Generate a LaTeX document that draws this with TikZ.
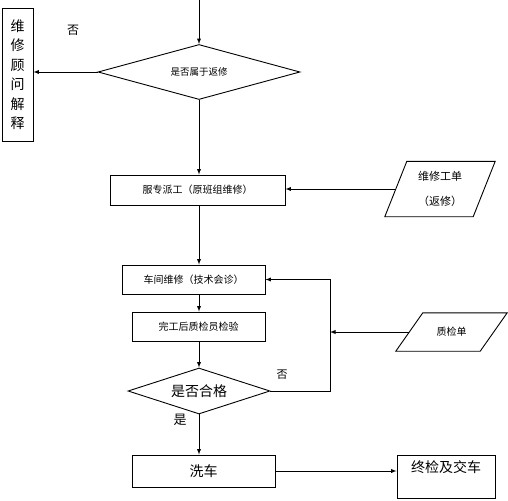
\documentclass[tikz,border=0pt]{standalone}
\usepackage{fontspec}
\setmainfont{Noto Sans CJK SC}
\usetikzlibrary{shapes.geometric}
\tikzset{
  box/.style={draw,line width=.9pt,inner sep=0pt,font=\fontsize{10}{12}\selectfont},
  decide/.style={draw,line width=.9pt,diamond,inner sep=0pt,aspect=3},
  paper/.style={inner sep=0pt,align=center},
  outline/.style={line width=.9pt,line join=miter},
  flow/.style={-latex,line width=.9pt},
  remark/.style={inner sep=0pt,font=\fontsize{#1}{#1}\selectfont}
}
\begin{document}
\begin{tikzpicture}[x=1pt,y=-1pt]
\useasboundingbox (0,0) rectangle (508,500);
\coordinate (top) at (199,0);
\node[decide,minimum width=202pt,minimum height=55pt,font=\fontsize{9.5}{11}\selectfont] (rw) at (199,72) {是否属于返修};
\node[box,minimum width=31pt,minimum height=133pt,align=center,font=\fontsize{14}{19.5}\selectfont] (gw) at (17.5,74.5) {维\\修\\顾\\问\\解\\释};
\node[remark=12] (no1) at (73,30) {否};
\node[box,minimum width=175pt,minimum height=30pt] (pg) at (197.5,190) {服专派工（原班组维修）};
\node[paper,minimum width=110pt,minimum height=55pt,font=\fontsize{11}{25}\selectfont] (wo) at (440,189) {维修工单\\（返修）};
\draw[outline] ([xshift=22pt]wo.north west) -- (wo.north east) -- ([xshift=-22pt]wo.south east) -- (wo.south west) -- cycle;
\node[box,minimum width=143pt,minimum height=29pt] (ws) at (193.5,279.5) {车间维修（技术会诊）};
\node[box,minimum width=133pt,minimum height=29pt] (qi) at (198.5,326.5) {完工后质检员检验};
\node[paper,minimum width=111pt,minimum height=38pt,font=\fontsize{10}{12}\selectfont] (qc) at (451.5,332) {质检单};
\draw[outline] ([xshift=27pt]qc.north west) -- (qc.north east) -- ([xshift=-27pt]qc.south east) -- (qc.south west) -- cycle;
\node[decide,minimum width=142pt,minimum height=46pt,font=\fontsize{14}{16}\selectfont] (ok) at (199,391) {是否合格};
\node[remark=11] (no2) at (282,375) {否};
\node[remark=13] (yes) at (180,420) {是};
\node[box,minimum width=143pt,minimum height=32pt,font=\fontsize{14}{16}\selectfont] (xc) at (203.5,471) {洗车};
\node[box,anchor=north,minimum width=98pt,inner ysep=4pt,text height=13pt,text depth=22pt,font=\fontsize{14}{16}\selectfont] (zj) at (446,455) {终检及交车};
\coordinate (fb) at (330,391);
\coordinate (woin) at ([xshift=11pt]wo.west);
\coordinate (qcin) at ([xshift=13.5pt]qc.west);
\draw[flow] (top) -- (rw.north);
\draw[flow] (rw.west) -- (rw.west -| gw.east);
\draw[flow] (rw.south) -- (rw.south |- pg.north);
\draw[flow] (woin) -- (woin -| pg.east);
\draw[flow] (rw.south |- pg.south) -- (rw.south |- ws.north);
\draw[flow] (rw.south |- ws.south) -- (rw.south |- qi.north);
\draw[flow] (rw.south |- qi.south) -- (ok.north);
\draw[flow] (ok.south) -- (ok.south |- xc.north);
\draw[flow] (xc.east) -- (xc.east -| zj.west);
\draw[flow] (ok.east) -- (fb) -- (fb |- ws.east) -- (ws.east);
\draw[flow] (qcin) -- (qcin -| fb);
\end{tikzpicture}
\end{document}
